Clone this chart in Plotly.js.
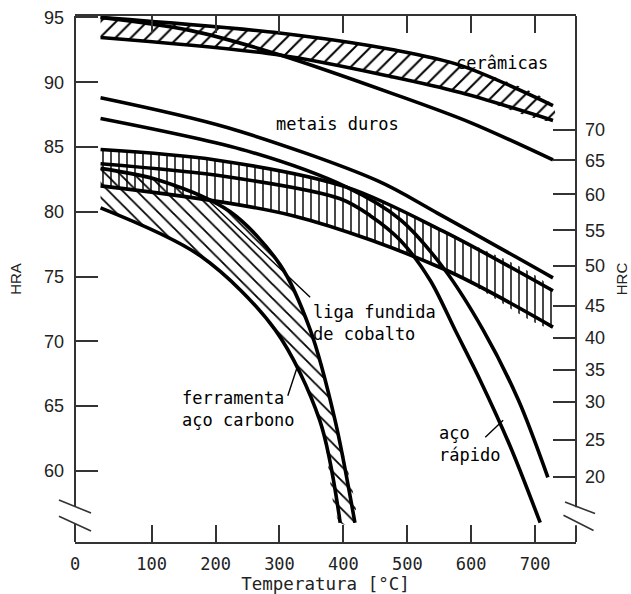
<!DOCTYPE html>
<html><head><meta charset="utf-8">
<script src="https://cdn.plot.ly/plotly-3.0.1.min.js"></script>
<style>html,body{margin:0;padding:0;background:#fff}</style>
</head><body>
<div id="chart" style="width:631px;height:594px"></div>
<script>
// ---- data (Temperature °C, hardness HRA) ----
const ceramT   = [20, 300, 478, 583, 728];
const ceramHi  = [95.0, 93.8, 92.5, 91.3, 88.2];
const ceramLo  = [93.45, 92.1, 90.4, 89.2, 87.05];

const mdHiT = [20, 160, 301, 478, 598, 728];
const mdHi  = [95.0, 94.0, 92.1, 89.1, 86.9, 84.0];
const mdLoT = [20, 218, 453, 547, 728];
const mdLo  = [88.8, 86.5, 82.4, 79.9, 74.9];

const arHiT = [20, 249, 405, 489, 556, 619, 674, 720];
const arHi  = [87.2, 84.7, 81.9, 79.4, 75.7, 70.85, 65.45, 59.5];
const arLoT = [20, 218, 395, 442, 489, 536, 575, 614, 661, 708];
const arLo  = [83.7, 82.7, 81.0, 79.7, 77.8, 74.7, 70.85, 67.0, 61.9, 56.0];

const coHiT = [20, 200, 405, 556, 728];
const coHi  = [84.8, 84.0, 81.9, 78.5, 73.9];
const coLoT = [20, 321, 556, 728];
const coLo  = [82.0, 79.7, 75.6, 71.1];

const csHiT = [20, 114, 223, 301, 348, 387, 418];
const csHi  = [83.35, 82.4, 80.0, 75.9, 70.9, 63.9, 56.0];
const csLoT = [20, 176, 293, 363, 395];
const csLo  = [80.3, 76.6, 70.9, 63.9, 56.0];

const xTickVals = [-20, 100, 200, 300, 400, 500, 600, 700];
const xTickText = ['0', '100', '200', '300', '400', '500', '600', '700'];
const hraTicks  = [60, 65, 70, 75, 80, 85, 90, 95];
const hrcLabels = ['20', '25', '30', '35', '40', '45', '50', '55', '60', '65', '70'];
const hrcAtHRA  = [59.53, 62.42, 65.32, 67.82, 70.29, 72.73, 75.81, 78.57, 81.35, 83.97, 86.34];

const xRange = [-20, 764];
const yRange = [54.51, 95.11];

// ---- traces ----
const LW = 3.6;
function line(T, H) {
  return {x: T, y: H, mode: 'lines', type: 'scatter', hoverinfo: 'skip',
          line: {color: '#000', width: LW, shape: 'spline', smoothing: 0.9}, showlegend: false};
}
function band(T1, H1, T2, H2, shape, size) {
  return {x: T1.concat(T2.slice().reverse()), y: H1.concat(H2.slice().reverse()),
          mode: 'lines', type: 'scatter', fill: 'toself', hoverinfo: 'skip', showlegend: false,
          fillcolor: 'rgba(0,0,0,0)',
          line: {width: 0, shape: 'spline', smoothing: 0.9},
          fillpattern: {shape: shape, size: size, solidity: 0.18, fgcolor: '#000', bgcolor: 'rgba(255,255,255,0)'}};
}
const traces = [
  band(ceramT, ceramHi, ceramT, ceramLo, '/', 11),
  band(coHiT, coHi, coLoT, coLo, '|', 8),
  band(csHiT, csHi, csLoT, csLo, '\\', 10),
  line(ceramT, ceramHi), line(ceramT, ceramLo),
  line(mdHiT, mdHi), line(mdLoT, mdLo),
  line(arHiT, arHi), line(arLoT, arLo),
  line(coHiT, coHi), line(coLoT, coLo),
  line(csHiT, csHi), line(csLoT, csLo),
  {x: [], y: [], yaxis: 'y2', type: 'scatter', showlegend: false}
];

const labelFont = {family: 'DejaVu Sans Mono', size: 17, color: '#000'};
function ann(x, y, text, xanchor) {
  return {x: x, y: y, xref: 'x', yref: 'y', text: text, showarrow: false,
          xanchor: xanchor || 'center', yanchor: 'middle', align: 'left', font: labelFont};
}
const ax = '#333';
function seg(x0, y0, x1, y1, ref, w) {
  return {type: 'line', xref: ref, yref: ref === 'paper' ? 'paper' : 'y', x0: x0, y0: y0, x1: x1, y1: y1,
          line: {color: ref === 'paper' ? ax : '#000', width: w}};
}
const shapes = [
  // left axis with break
  seg(0, 0, 0, 0.034, 'paper', 2), seg(0, 0.067, 0, 1, 'paper', 2),
  seg(-0.032, 0.080, 0.032, 0.055, 'paper', 1.6), seg(-0.032, 0.049, 0.032, 0.021, 'paper', 1.6),
  // right axis with break
  seg(1, 0, 1, 0.032, 'paper', 2), seg(1, 0.066, 1, 1, 'paper', 2),
  seg(0.978, 0.076, 1.038, 0.054, 'paper', 1.6), seg(0.975, 0.051, 1.035, 0.022, 'paper', 1.6),
  // pointers
  seg(348, 73.4, 186, 81.0, 'x', 1.4),
  seg(313, 65.8, 327, 67.9, 'x', 1.4),
  seg(622, 62.6, 650, 63.9, 'x', 1.4)
];

const layout = {
  width: 631, height: 594,
  margin: {l: 75, r: 55, t: 16, b: 52},
  paper_bgcolor: '#fff', plot_bgcolor: '#fff',
  showlegend: false,
  xaxis: {range: xRange, tickvals: xTickVals, ticktext: xTickText,
          ticks: 'inside', ticklen: 17, tickwidth: 2, tickcolor: ax,
          showline: true, linewidth: 2, linecolor: ax, mirror: 'ticks',
          showgrid: false, zeroline: false, ticklabelstandoff: 6,
          tickfont: {family: 'DejaVu Sans Mono', size: 17, color: '#222'},
          title: {text: 'Temperatura [°C]', standoff: 0,
                  font: {family: 'DejaVu Sans Mono', size: 17.5, color: '#222'}}},
  yaxis: {range: yRange, tickvals: hraTicks, ticks: 'inside', ticklen: 23, tickwidth: 2, tickcolor: ax,
          showline: false, showgrid: false, zeroline: false, ticklabelstandoff: 10,
          tickfont: {family: 'Liberation Sans', size: 18, color: '#222'},
          title: {text: 'HRA', standoff: 18, font: {family: 'Liberation Sans', size: 15, color: '#222'}}},
  yaxis2: {range: yRange, overlaying: 'y', side: 'right', tickvals: hrcAtHRA, ticktext: hrcLabels,
           ticks: 'inside', ticklen: 23, tickwidth: 2, tickcolor: ax,
           showline: false, showgrid: false, zeroline: false, ticklabelstandoff: 8,
           tickfont: {family: 'Liberation Sans', size: 18, color: '#222'},
           title: {text: 'HRC', standoff: 12, font: {family: 'Liberation Sans', size: 15, color: '#222'}}},
  shapes: shapes,
  annotations: [
    ann(648, 91.5, 'cerâmicas'),
    ann(390, 86.8, 'metais duros'),
    ann(350, 71.4, 'liga fundida<br>de cobalto', 'left'),
    ann(145, 64.8, 'ferramenta<br>aço carbono', 'left'),
    ann(546, 62.1, 'aço<br>rápido', 'left')
  ]
};
Plotly.newPlot('chart', traces, layout, {displayModeBar: false, staticPlot: true});
</script>
</body></html>
